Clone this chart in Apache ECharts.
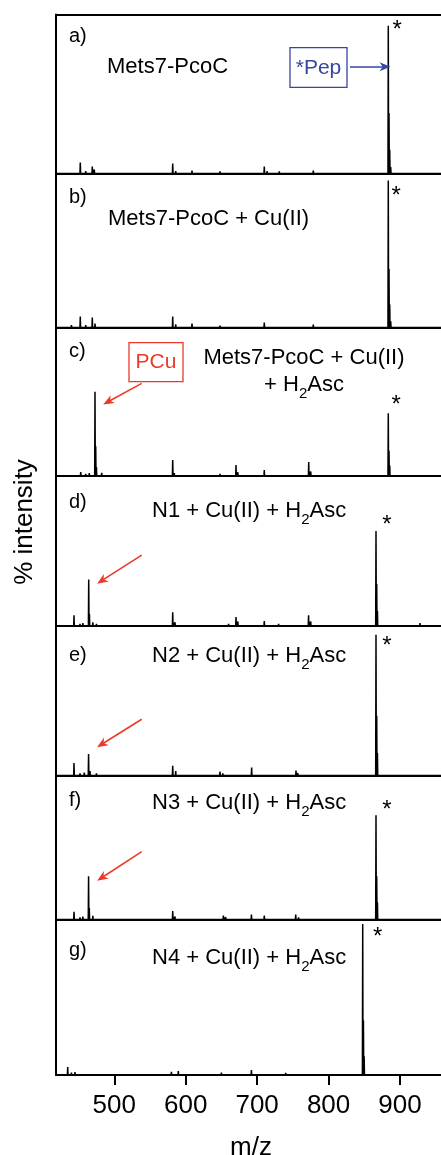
<!DOCTYPE html>
<html><head><meta charset="utf-8">
<script src="https://cdn.jsdelivr.net/npm/echarts@6/dist/echarts.min.js"></script>
<style>html,body{margin:0;padding:0;background:#fff}#c{width:441px;height:1155px}</style>
</head><body><div id="c"></div>
<script>
// ---------- DATA ----------
const panelLabels = ['a)', 'b)', 'c)', 'd)', 'e)', 'f)', 'g)'];
const panelTitles = [
  'Mets7-PcoC',
  'Mets7-PcoC + Cu(II)',
  'Mets7-PcoC + Cu(II)\n+ H{s|2}Asc',
  'N1 + Cu(II) + H{s|2}Asc',
  'N2 + Cu(II) + H{s|2}Asc',
  'N3 + Cu(II) + H{s|2}Asc',
  'N4 + Cu(II) + H{s|2}Asc'
];
const xTicks = [500, 600, 700, 800, 900];
const xName = 'm/z';
const yName = '% intensity';

// [m/z, % intensity]
const peaksA = [[430,1],[440,1.2],[452.4,6.9],[460,1.5],[469.2,4.4],[472,2.5],[490,0.8],[510,1],[530,0.8],[545,1],[581.8,6.3],[586,1.5],[608.8,1.9],[625,1],[648,1.3],[665,0.8],[680,1],[695,1],[710,4.4],[714,1.5],[731,1.3],[750,0.8],[778.6,1.9],[800,0.8],[820,0.8],[845,0.7],[883.6,93],[884.6,38],[885.6,15],[887,4],[900,0.8],[930,0.7],[950,0.6]];
const peaksB = [[428,1],[440,1.5],[452.4,7.1],[460,1.5],[469.2,6.5],[473,2.5],[490,0.8],[505,0.8],[530,1],[581.8,7.1],[586,2],[608.8,2.6],[625,1],[648,1.3],[668,1],[690,1],[710,3.2],[714,1.2],[731,1.2],[778.6,1.9],[800,0.8],[883.6,95.5],[884.6,38],[885.6,15],[887,4],[905,0.7]];
const peaksC = [[430,1],[445,1],[453,2.7],[460,1.5],[465,2],[473,56.8],[474,20],[475,6],[482.4,2.2],[495,1],[520,1],[545,1],[560,0.8],[581.8,10.8],[584,2],[600,1],[608,1.2],[630,1],[648,1.5],[652,1.3],[670.4,7.4],[673,2.5],[683,1],[692,1],[710,4],[725,1],[732,1.2],[772.2,9.4],[775,3],[790,1],[810,1],[830,0.8],[844,1],[860,0.8],[883.6,42.2],[884.6,17],[885.6,7],[900,0.8],[946,1.3]];
const peaksD = [[430,1],[443.6,7.1],[452,1.5],[456,2],[464.2,31],[465.2,8],[470,2.5],[475,1.5],[490,1],[510,1],[530,0.8],[550,1],[581.8,9.1],[585,2.5],[600,1.2],[620,1],[640,1.2],[660,1.5],[670.4,6],[673,3],[690,1],[710,3.3],[730,1.5],[745,1],[772,7.1],[775,3],[790,1],[810,0.8],[830,0.8],[866.4,63.3],[867.4,28],[868.4,10],[880,1],[900,0.8],[928,2],[940,0.7]];
const peaksE = [[430,1],[443.6,8.3],[452,1.5],[458,2],[464,14.3],[466,3],[475,1.5],[490,1],[510,1],[530,1],[550,1],[581.8,6.5],[586,3],[600,1],[620,1],[635,1.2],[648,2.7],[652,1.5],[670,1],[692.3,5.4],[697,1.2],[710,1],[730,1],[754.4,3.3],[757,1.5],[775,0.8],[800,0.8],[830,0.7],[866.4,94.1],[867.4,40],[868.4,15],[880,1],[900,0.7],[928,0.8]];
const peaksF = [[430,1],[443.6,5.3],[452,1.5],[456,2],[464,30.1],[465,8],[470,2.5],[480,1],[500,1],[520,1],[540,0.8],[560,1],[581.8,5.8],[585,2],[600,1],[620,1],[640,1],[652.7,2.8],[656,1.5],[670,1],[692,3.5],[697,1],[710,2.8],[714,1.2],[730,1],[754,3.5],[758,1.5],[775,1],[800,0.8],[830,0.7],[866.4,72.4],[867.4,30],[868.4,12],[880,1],[900,0.7],[928,1]];
const peaksG = [[428,1],[434.8,5.1],[440,1.5],[445,1.9],[455,1],[470,1],[490,0.8],[510,1],[530,0.8],[550,1],[580,2],[589.6,2.6],[600,1],[615,1],[630,1.2],[650,1.5],[670,1],[692,3.2],[700,1],[720,1],[740,1.3],[760,1],[780,0.8],[800,0.8],[820,0.7],[847.8,97.1],[848.8,35],[849.8,12],[860,0.8],[880,0.7],[900,1],[930,0.7]];
const allPeaks = [peaksA, peaksB, peaksC, peaksD, peaksE, peaksF, peaksG];

// m/z of the peptide peak marked with * in each panel
const starMz = [883.6, 883.6, 883.6, 866.4, 866.4, 866.4, 847.8];

// arrows pointing to the PCu peak: [[fromMz, fromY], [toMz, toY]] per panel (null = none)
const pcuArrows = [null, null, [[538.4,62.4],[491.2,50.0]], [[538.4,47.3],[482.4,30.2]], [[538.4,37.6],[482.4,20.9]], [[538.4,47.1],[482.4,29.0]], null];
const pepArrow = [[830.0,67.2],[879.0,67.2]];

// ---------- LAYOUT ----------
const X_MIN = 418.4, X_MAX = 964.4;
const LEFT = 56, WIDTH = 390;
const tops = [14.5, 173.5, 327.5, 476, 626, 775.5, 919.5, 1075];
const starOffsets = [[9,5],[8,16],[8,-8],[11,-6],[11,12],[11,-5],[15,13]];
const FONT = '"Liberation Sans", Arial, Helvetica, sans-serif';
const RED = '#ec3a2a', BLUE = '#3545a3';
const arrowHead = 'path://M5,0 L10,12 L5,8.5 L0,12 Z';

function profile(peaks) {
  const pts = [[X_MIN, 0]];
  peaks.slice().sort((a, b) => a[0] - b[0]).forEach(p => {
    pts.push([p[0] - 0.45, 0], [p[0], p[1]], [p[0] + 0.45, 0]);
  });
  pts.push([X_MAX, 0]);
  return pts;
}

const grids = [], xAxes = [], yAxes = [], series = [];
for (let i = 0; i < 7; i++) {
  const last = i === 6;
  grids.push({ left: LEFT, width: WIDTH, top: tops[i], height: tops[i + 1] - tops[i], outerBoundsMode: 'none', containLabel: false });
  xAxes.push({
    type: 'value', gridIndex: i, min: X_MIN, max: X_MAX,
    axisLine: { show: true, onZero: false, lineStyle: { color: '#000', width: 2 } },
    axisTick: last ? { show: true, customValues: xTicks, length: 10, lineStyle: { color: '#000', width: 2 } } : { show: false },
    axisLabel: last ? { show: true, customValues: xTicks, fontSize: 26, color: '#000', fontFamily: FONT, margin: 18 } : { show: false },
    splitLine: { show: false },
    name: last ? xName : '', nameLocation: 'middle', nameGap: 60,
    nameTextStyle: { fontSize: 26, color: '#000', fontFamily: FONT }
  });
  yAxes.push({
    type: 'value', gridIndex: i, min: 0, max: 100,
    axisLine: { show: true, onZero: false, lineStyle: { color: '#000', width: 2 } },
    axisTick: { show: false }, axisLabel: { show: false }, splitLine: { show: false }
  });
  const peaks = allPeaks[i];
  const main = peaks.find(p => p[0] === starMz[i]);
  const s = {
    type: 'line', xAxisIndex: i, yAxisIndex: i, data: profile(peaks),
    showSymbol: false, silent: true, animation: false,
    lineStyle: { color: '#000', width: 1.5 },
    markPoint: {
      silent: true, animation: false,
      symbol: 'circle', symbolSize: 1, itemStyle: { color: 'rgba(0,0,0,0)' },
      data: [{ coord: main, label: { show: true, formatter: '*', position: 'inside', offset: starOffsets[i], fontSize: 24, color: '#000', fontFamily: FONT } }]
    }
  };
  const arrows = [];
  if (pcuArrows[i]) arrows.push({ pts: pcuArrows[i], color: RED });
  if (i === 0) arrows.push({ pts: pepArrow, color: BLUE });
  if (arrows.length) {
    s.markLine = {
      silent: true, animation: false,
      symbol: ['none', arrowHead], symbolSize: [9, 11],
      label: { show: false },
      data: arrows.map(a => [
        { coord: a.pts[0], lineStyle: { color: a.color, width: 1.6, type: 'solid' }, itemStyle: { color: a.color } },
        { coord: a.pts[1] }
      ])
    };
  }
  series.push(s);
}
// top border
xAxes.push({
  type: 'value', gridIndex: 0, min: X_MIN, max: X_MAX, position: 'top',
  axisLine: { show: true, onZero: false, lineStyle: { color: '#000', width: 2 } },
  axisTick: { show: false }, axisLabel: { show: false }, splitLine: { show: false }
});

const rich = { s: { fontSize: 15, fontFamily: FONT, color: '#000', padding: [18, 0, 0, 0] } };
const labelY = [36.5, 197, 351.7, 502, 655, 800, 950];
const titlePos = [
  { x: 107, y: 66.7, align: 'left' },
  { x: 108, y: 219.3, align: 'left' },
  { x: 304, y: 371, align: 'center' },
  { x: 152, y: 510.7, align: 'left' },
  { x: 152, y: 656, align: 'left' },
  { x: 152, y: 803.3, align: 'left' },
  { x: 152, y: 958.3, align: 'left' }
];
const graphic = [];
for (let i = 0; i < 7; i++) {
  graphic.push({ type: 'text', x: 69, y: labelY[i], style: { text: panelLabels[i], fontSize: 20, fontFamily: FONT, fill: '#000', verticalAlign: 'middle', align: 'left' } });
  graphic.push({ type: 'text', x: titlePos[i].x, y: titlePos[i].y, style: { text: panelTitles[i], fontSize: 22, fontFamily: FONT, fill: '#000', verticalAlign: 'middle', align: titlePos[i].align, lineHeight: 27, rich } });
}
// boxes
graphic.push({ type: 'rect', shape: { x: 290, y: 47.7, width: 57, height: 39.6 }, style: { fill: '#fff', stroke: BLUE, lineWidth: 1.3 } });
graphic.push({ type: 'text', x: 318.5, y: 68, style: { text: '*Pep', fontSize: 21, fontFamily: FONT, fill: BLUE, align: 'center', verticalAlign: 'middle' } });
graphic.push({ type: 'rect', shape: { x: 129, y: 342.7, width: 54, height: 39 }, style: { fill: '#fff', stroke: RED, lineWidth: 1.3 } });
graphic.push({ type: 'text', x: 156, y: 362.5, style: { text: 'PCu', fontSize: 21, fontFamily: FONT, fill: RED, align: 'center', verticalAlign: 'middle' } });
// y axis name
graphic.push({ type: 'text', x: 25, y: 522, rotation: Math.PI / 2, style: { text: yName, fontSize: 26, fontFamily: FONT, fill: '#000', align: 'center', verticalAlign: 'middle' } });

const chart = echarts.init(document.getElementById('c'), null, { renderer: 'canvas' });
chart.setOption({
  animation: false,
  backgroundColor: '#fff',
  grid: grids, xAxis: xAxes, yAxis: yAxes, series, graphic
});
</script>
</body></html>
